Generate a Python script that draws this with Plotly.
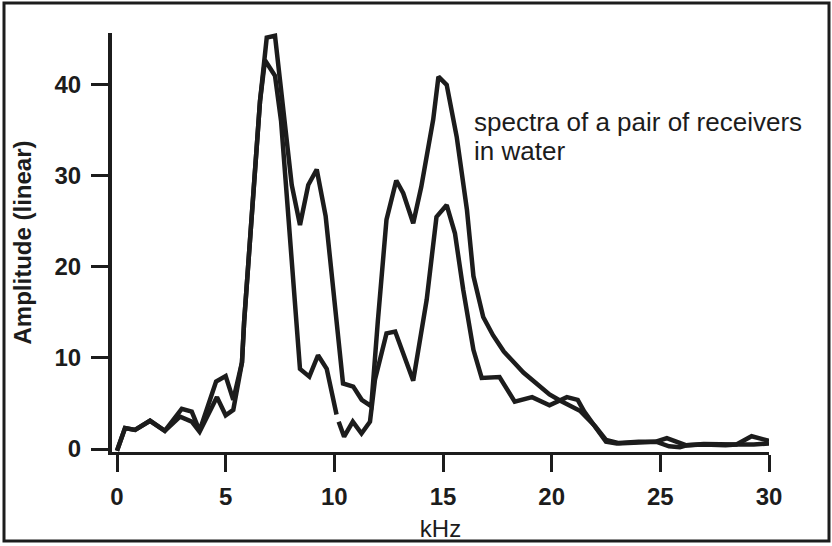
import plotly.graph_objects as go

# ---- data ----
freq_a = [0, 0.37, 0.83, 1.52, 2.2, 2.98, 3.44, 3.8, 4.56, 5.0, 5.35, 5.75, 5.85,
          6.27, 6.58, 6.89, 7.27, 7.5, 7.73, 8.04, 8.42, 8.8, 9.19, 9.6, 10.4,
          10.87, 11.26, 11.7, 12.0, 12.4, 12.85, 13.17, 13.63, 14.0, 14.55, 14.79,
          15.17, 15.63, 16.1, 16.4, 16.85, 17.3, 17.8, 18.7, 19.9, 20.4, 21.3,
          21.6, 22.0, 22.5, 23.1, 24.0, 24.8, 25.3, 25.8, 26.2, 27.0, 28.0, 28.5,
          29.2, 30.0]
amp_a = [-0.2, 2.3, 2.1, 3.1, 2.0, 4.4, 4.1, 2.0, 7.4, 8.0, 5.4, 9.5, 14.0,
         28.3, 38.2, 45.2, 45.4, 40.5, 35.6, 29.0, 24.6, 29.0, 30.7, 25.6, 7.2,
         6.85, 5.4, 4.7, 14.0, 25.2, 29.5, 28.1, 24.8, 28.8, 36.2, 40.9,
         40.0, 34.3, 26.3, 19.0, 14.5, 12.5, 10.7, 8.4, 6.0, 5.3, 4.2,
         3.5, 2.5, 1.0, 0.65, 0.8, 0.8, 1.2, 0.8, 0.4, 0.55, 0.45, 0.5,
         1.4, 0.9]

freq_b = [0, 0.37, 0.83, 1.52, 2.2, 2.9, 3.44, 3.8, 4.6, 5.0, 5.35, 5.75, 5.85,
          6.27, 6.58, 6.81, 7.27, 7.55, 7.8, 8.0, 8.27, 8.42, 8.85, 9.25, 9.65,
          10.1, 10.15, 10.2, 10.45, 10.85, 11.25, 11.64, 11.87, 12.4, 12.8, 13.63,
          14.25, 14.7, 15.17, 15.55, 15.93, 16.4, 16.78, 17.6, 18.3, 19.1, 19.9,
          20.7, 21.2, 21.5, 22.5, 23.0, 24.0, 24.8, 25.4, 25.9, 26.2, 27.0, 28.0,
          28.5, 29.3, 30.0]
amp_b = [-0.2, 2.3, 2.1, 3.1, 2.0, 3.55, 3.0, 1.9, 5.7, 3.7, 4.3, 9.5, 14.0,
         28.3, 38.2, 42.7, 41.0, 36.0, 28.5, 21.5, 13.0, 8.8, 7.95, 10.3, 8.8,
         3.8, None, 3.0, 1.35, 3.0, 1.7, 3.0, 7.6, 12.7, 12.9, 7.5,
         16.4, 25.5, 26.8, 23.7, 17.5, 10.9, 7.8, 7.9, 5.2, 5.7, 4.8,
         5.7, 5.4, 4.1, 0.8, 0.6, 0.7, 0.8, 0.3, 0.2, 0.4, 0.5, 0.4,
         0.5, 0.5, 0.6]

x_ticks = [0, 5, 10, 15, 20, 25, 30]
y_ticks = [0, 10, 20, 30, 40]
x_title = "kHz"
y_title = "Amplitude (linear)"
note_lines = ["spectra of a pair of receivers", "in water"]

INK = "#1c1c1c"
FONT = "Liberation Sans, Arial, sans-serif"

fig = go.Figure()
for fx, fy in [(freq_a, amp_a), (freq_b, amp_b)]:
    fig.add_trace(go.Scatter(x=fx, y=fy, mode="lines", connectgaps=False,
                             line=dict(color=INK, width=4.5), showlegend=False,
                             hoverinfo="skip"))

W, H = 832, 546
ml, mr, mt, mb = 112, 63, 33, 94
pw, ph = W - ml - mr, H - mt - mb

def px(xp):
    return (xp - ml) / pw

def py(yp):
    return (H - mb - yp) / ph

fig.update_layout(
    width=W, height=H,
    margin=dict(l=ml, r=mr, t=mt, b=mb, pad=0),
    paper_bgcolor="white", plot_bgcolor="white",
    font=dict(family=FONT, color=INK, size=24),
    xaxis=dict(range=[-0.23, 30], tickvals=x_ticks, ticks="outside", ticklen=17,
               tickwidth=3, tickcolor=INK, showline=True, linewidth=3,
               linecolor=INK, showgrid=False, zeroline=False, automargin=False,
               tickfont=dict(size=24, family=FONT, color=INK, weight="bold"),
               ticklabelstandoff=4,
               title=dict(text=x_title, font=dict(size=24, family=FONT, color=INK),
                          standoff=12)),
    yaxis=dict(range=[-0.33, 45.7], tickvals=y_ticks, ticks="outside", ticklen=17,
               tickwidth=3, tickcolor=INK, showline=True, linewidth=4,
               linecolor=INK, showgrid=False, zeroline=False, automargin=False,
               tickfont=dict(size=24, family=FONT, color=INK, weight="bold"),
               ticklabelstandoff=5,
               title=dict(text=y_title, font=dict(size=24, family=FONT, color=INK,
                                                   weight="bold"),
                          standoff=17)),
)

for i, (txt, yp) in enumerate(zip(note_lines, [122, 151])):
    fig.add_annotation(text=txt, xref="paper", yref="paper", x=px(472), y=py(yp),
                       xanchor="left", yanchor="middle", showarrow=False,
                       font=dict(size=26, family=FONT, color=INK))

fig.add_shape(type="rect", xref="paper", yref="paper",
              x0=px(4), x1=px(829), y0=py(541), y1=py(3),
              line=dict(color=INK, width=3), fillcolor="rgba(0,0,0,0)", layer="above")

fig.write_html("out.html")
